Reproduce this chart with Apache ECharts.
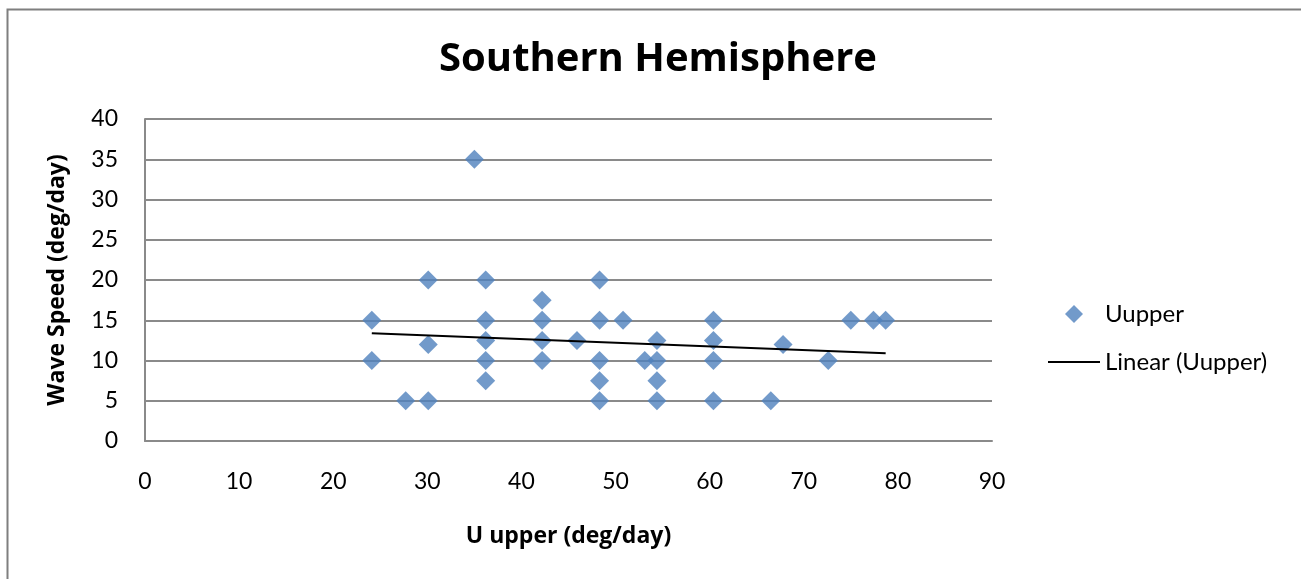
<!DOCTYPE html>
<html>
<head>
<meta charset="utf-8">
<script src="https://cdn.jsdelivr.net/npm/echarts@6/dist/echarts.min.js"></script>
<style>
  html, body { margin: 0; padding: 0; background: #fff; }
  #chart { width: 1301px; height: 579px; }
</style>
</head>
<body>
<div id="chart"></div>
<script>
// Upper-level zonal wind vs. observed wave speed (deg/day)
const uUpper = [
  24.1, 24.1, 27.7, 30.1, 30.1, 30.1, 35.0,
  36.2, 36.2, 36.2, 36.2, 36.2,
  42.2, 42.2, 42.2, 42.2, 45.9,
  48.3, 48.3, 48.3, 48.3, 48.3,
  50.8, 53.1, 54.4, 54.4, 54.4, 54.4,
  60.4, 60.4, 60.4, 60.4,
  66.5, 67.8, 72.6, 75.0, 77.4, 78.7
];
const waveSpeed = [
  15, 10, 5, 20, 12, 5, 35,
  20, 15, 12.5, 10, 7.5,
  17.5, 15, 12.5, 10, 12.5,
  20, 15, 10, 7.5, 5,
  15, 10, 12.5, 10, 7.5, 5,
  15, 12.5, 10, 5,
  5, 12, 10, 15, 15, 15
];
const xTicks = { min: 0, max: 90, step: 10 };
const yTicks = { min: 0, max: 40, step: 5 };

// least-squares linear trend of the series
function linearFit(xs, ys) {
  const n = xs.length;
  let sx = 0, sy = 0, sxx = 0, sxy = 0;
  for (let i = 0; i < n; i++) {
    sx += xs[i]; sy += ys[i];
    sxx += xs[i] * xs[i]; sxy += xs[i] * ys[i];
  }
  const slope = (n * sxy - sx * sy) / (n * sxx - sx * sx);
  const intercept = (sy - slope * sx) / n;
  return { slope, intercept };
}
const fit = linearFit(uUpper, waveSpeed);
const xMin = Math.min(...uUpper), xMax = Math.max(...uUpper);
const trend = [
  [xMin, fit.intercept + fit.slope * xMin],
  [xMax, fit.intercept + fit.slope * xMax]
];

const FONT = 'Lato, Carlito, "Liberation Sans", sans-serif';
const BOLD_FONT = '"Open Sans", Lato, sans-serif';
const GRID = '#8a8a8a';

const chart = echarts.init(document.getElementById('chart'), null, { renderer: 'canvas' });
chart.setOption({
  backgroundColor: '#fff',
  animation: false,
  textStyle: { fontFamily: FONT, color: '#000' },
  title: {
    text: 'Southern Hemisphere',
    left: 653, top: 35, textAlign: 'center',
    textStyle: { fontFamily: BOLD_FONT, fontSize: 40, fontWeight: 'bold', color: '#000' }
  },
  graphic: [{
    type: 'rect', left: 5, top: 7,
    shape: { width: 1310, height: 590 },
    style: { fill: 'none', stroke: '#7f7f7f', lineWidth: 2 }
  }],
  grid: { left: 145, right: 309, top: 119, bottom: 138, containLabel: false },
  xAxis: {
    type: 'value', min: xTicks.min, max: xTicks.max, interval: xTicks.step,
    name: 'U upper (deg/day)', nameLocation: 'middle', nameGap: 84,
    nameTextStyle: { fontFamily: BOLD_FONT, fontSize: 23, fontWeight: 'bold', color: '#000' },
    axisLine: { show: true, onZero: false, lineStyle: { color: GRID, width: 2 } },
    axisTick: { show: false },
    splitLine: { show: false },
    axisLabel: { fontFamily: FONT, fontSize: 23, color: '#000', margin: 29 }
  },
  yAxis: {
    type: 'value', min: yTicks.min, max: yTicks.max, interval: yTicks.step,
    name: 'Wave Speed (deg/day)', nameLocation: 'middle', nameGap: 76, nameRotate: 90,
    nameTextStyle: { fontFamily: BOLD_FONT, fontSize: 23, fontWeight: 'bold', color: '#000' },
    axisLine: { show: true, lineStyle: { color: GRID, width: 2 } },
    axisTick: { show: false },
    splitLine: { show: true, lineStyle: { color: GRID, width: 2 } },
    axisLabel: { fontFamily: FONT, fontSize: 23, color: '#000', margin: 27 }
  },
  legend: [
    {
      data: [{ name: 'Uupper', icon: 'diamond' }],
      left: 1065, top: 302, orient: 'vertical', padding: 0,
      itemWidth: 18, itemHeight: 18,
      textStyle: { fontFamily: FONT, fontSize: 24, color: '#000', padding: [0, 0, 0, 17] }
    },
    {
      data: [{ name: 'Linear (Uupper)', icon: 'rect' }],
      left: 1048, top: 350, orient: 'vertical', padding: 0,
      itemWidth: 52, itemHeight: 2,
      textStyle: { fontFamily: FONT, fontSize: 24, color: '#000' }
    }
  ],
  series: [
    {
      name: 'Uupper', type: 'scatter',
      symbol: 'diamond', symbolSize: 19,
      itemStyle: { color: '#4f81bd' },
      data: uUpper.map((x, i) => [x, waveSpeed[i]]),
      z: 3
    },
    {
      name: 'Linear (Uupper)', type: 'line',
      showSymbol: false, symbol: 'none',
      lineStyle: { color: '#000', width: 2 },
      itemStyle: { color: '#000' },
      data: trend,
      z: 4
    }
  ]
});
</script>
</body>
</html>
